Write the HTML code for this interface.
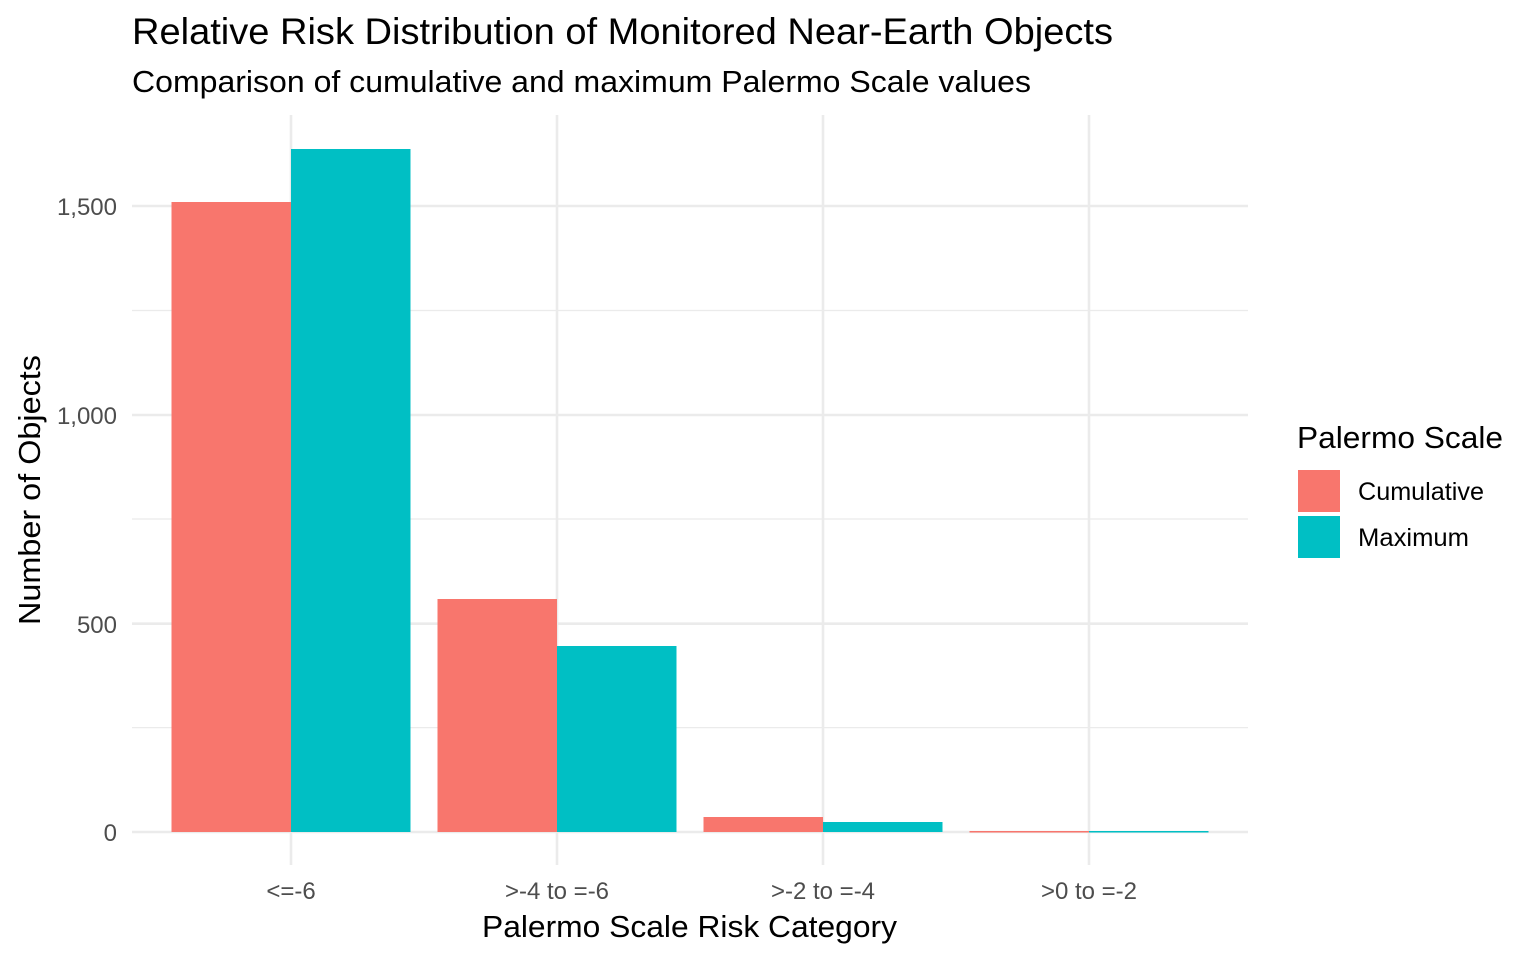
<!DOCTYPE html>
<html><head><meta charset="utf-8"><style>
body{margin:0;background:#fff}
svg text{font-family:"Liberation Sans",Arial,sans-serif}
</style></head><body>
<svg width="1536" height="960" xmlns="http://www.w3.org/2000/svg">
<rect width="1536" height="960" fill="#fff"/>
<g stroke="#ebebeb" stroke-width="1.3">
<line x1="132" x2="1248" y1="727.6" y2="727.6"/>
<line x1="132" x2="1248" y1="519" y2="519"/>
<line x1="132" x2="1248" y1="310.5" y2="310.5"/>
</g>
<g stroke="#ebebeb" stroke-width="2.6">
<line x1="132" x2="1248" y1="832" y2="832"/>
<line x1="132" x2="1248" y1="623.7" y2="623.7"/>
<line x1="132" x2="1248" y1="415" y2="415"/>
<line x1="132" x2="1248" y1="206" y2="206"/>
<line x1="291" x2="291" y1="115" y2="865"/>
<line x1="557" x2="557" y1="115" y2="865"/>
<line x1="823" x2="823" y1="115" y2="865"/>
<line x1="1089" x2="1089" y1="115" y2="865"/>
</g>
<g fill="#F8766D">
<rect x="171.5" y="202" width="119.5" height="630"/>
<rect x="437.5" y="599" width="119.5" height="233"/>
<rect x="703.5" y="817" width="119.5" height="15"/>
<rect x="969.5" y="831" width="119.5" height="1.5"/>
</g>
<g fill="#00BFC4">
<rect x="291" y="149" width="119.5" height="683"/>
<rect x="557" y="646" width="119.5" height="186"/>
<rect x="823" y="822" width="119.5" height="10"/>
<rect x="1089" y="831" width="119.5" height="1.5"/>
</g>
<g fill="#4d4d4d" font-size="24" text-anchor="end">
<text x="117" y="841">0</text>
<text x="117" y="633">500</text>
<text x="117" y="424">1,000</text>
<text x="117" y="215">1,500</text>
</g>
<g fill="#4d4d4d" font-size="24" text-anchor="middle">
<text x="291" y="899">&lt;=-6</text>
<text x="557" y="899">&gt;-4 to =-6</text>
<text x="823" y="899">&gt;-2 to =-4</text>
<text x="1089" y="899">&gt;0 to =-2</text>
</g>
<text x="482" y="937" font-size="31" textLength="415" lengthAdjust="spacingAndGlyphs">Palermo Scale Risk Category</text>
<text transform="translate(40,625) rotate(-90)" font-size="31" textLength="270" lengthAdjust="spacingAndGlyphs">Number of Objects</text>
<text x="132" y="44" font-size="37" textLength="981" lengthAdjust="spacingAndGlyphs">Relative Risk Distribution of Monitored Near-Earth Objects</text>
<text x="132" y="92" font-size="31" textLength="899" lengthAdjust="spacingAndGlyphs">Comparison of cumulative and maximum Palermo Scale values</text>
<text x="1297" y="448" font-size="31" textLength="206" lengthAdjust="spacingAndGlyphs">Palermo Scale</text>
<rect x="1298" y="470" width="42" height="42" fill="#F8766D"/>
<rect x="1298" y="516" width="42" height="42" fill="#00BFC4"/>
<text x="1358" y="500" font-size="25" textLength="126" lengthAdjust="spacingAndGlyphs">Cumulative</text>
<text x="1358" y="546" font-size="25" textLength="111" lengthAdjust="spacingAndGlyphs">Maximum</text>
</svg>
</body></html>
